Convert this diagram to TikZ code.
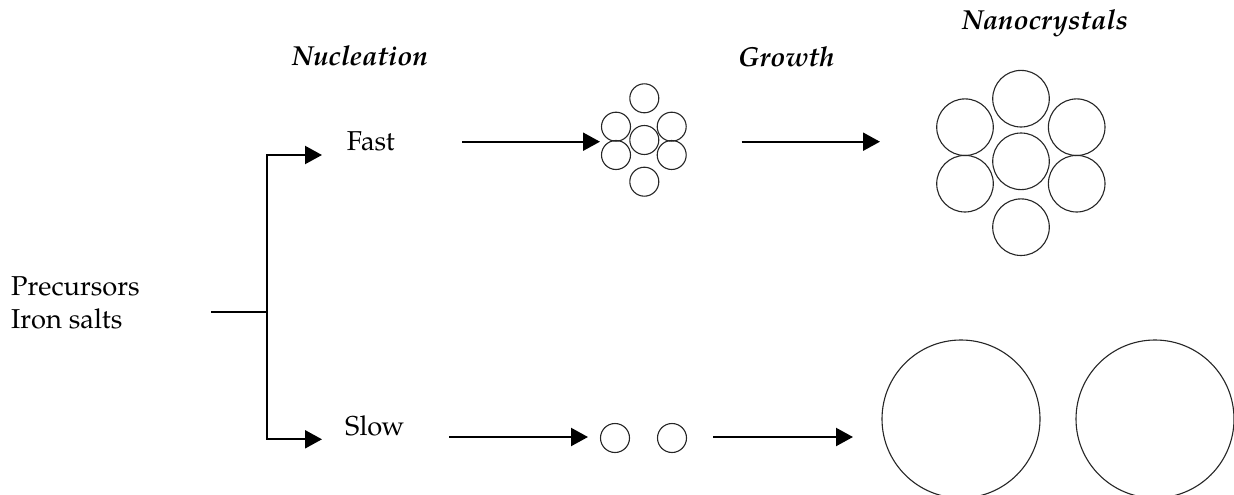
\documentclass[tikz,border=0pt]{standalone}
\usepackage{fontspec}
\setmainfont{TeX Gyre Pagella}
\usetikzlibrary{arrows.meta}
\tikzset{
  lbl/.style={inner sep=0pt, anchor=base west, font=\fontsize{27.3}{33}\selectfont},
  head/.style={inner sep=0pt, anchor=base west, font=\fontsize{27.5}{33}\selectfont\bfseries\itshape},
  conn/.style={line width=2.2pt},
  arr/.style={line width=2.2pt, -{Triangle[length=17pt,width=18pt]}},
  grain/.style={line width=1.1pt, draw=black!85},
}
\begin{document}
\begin{tikzpicture}[x=1pt,y=-1pt]
\useasboundingbox (0,0) rectangle (1234,495);
\clip (0,0) rectangle (1234,495);
\fill[white] (0,0) rectangle (1234,495);
% titles
\node[head] (nucl) at (291.7,66) {Nucleation};
\node[head] (grow) at (738,66.7) {Growth};
\node[head] (nano) at (961.7,29.3) {Nanocrystals};
% labels
\node[lbl] (prec) at (11,295) {Precursors};
\node[lbl] (iron) at (11,328) {Iron salts};
\node[lbl] (fast) at (346.7,150.7) {Fast};
\node[lbl] (slow) at (345,435) {Slow};
% bracket
\coordinate (src) at (211,312);
\coordinate (join) at (267,312);
\coordinate (ctop) at (267,155);
\coordinate (cbot) at (267,439.3);
\coordinate (etop) at (322,155);
\coordinate (ebot) at (322,439.3);
\draw[conn] (src) -- (join);
\draw[arr] (join) -- (ctop) -- (etop);
\draw[arr] (join) -- (cbot) -- (ebot);
% fast row
\coordinate (fa1) at (462,141.7);
\coordinate (fa2) at (600,141.7);
\coordinate (fg1) at (741.7,141.7);
\coordinate (fg2) at (880,141.7);
\draw[arr] (fa1) -- (fa2);
\draw[arr] (fg1) -- (fg2);
% slow row
\coordinate (sa1) at (449,437);
\coordinate (sa2) at (588,437);
\coordinate (sg1) at (713,437);
\coordinate (sg2) at (853,437);
\draw[arr] (sa1) -- (sa2);
\draw[arr] (sg1) -- (sg2);
% small nuclei cluster
\foreach \x/\y in {644.3/98.3, 644.3/140, 616/126.7, 616/155, 671.7/126.7, 671.7/155, 644.3/181.7}
  \draw[grain] (\x,\y) circle[radius=14.5];
% big cluster
\foreach \x/\y in {1021/98.7, 1021/161.3, 965/127.2, 965/183.7, 1076.7/127.2, 1076.7/183.7, 1021/227.2}
  \draw[grain] (\x,\y) circle[radius=28.3];
% slow nuclei
\draw[grain] (615,438) circle[radius=14.5];
\draw[grain] (672,438) circle[radius=14.5];
% large crystals
\draw[grain] (961,419) circle[radius=79];
\draw[grain] (1155,419) circle[radius=79];
\end{tikzpicture}
\end{document}
